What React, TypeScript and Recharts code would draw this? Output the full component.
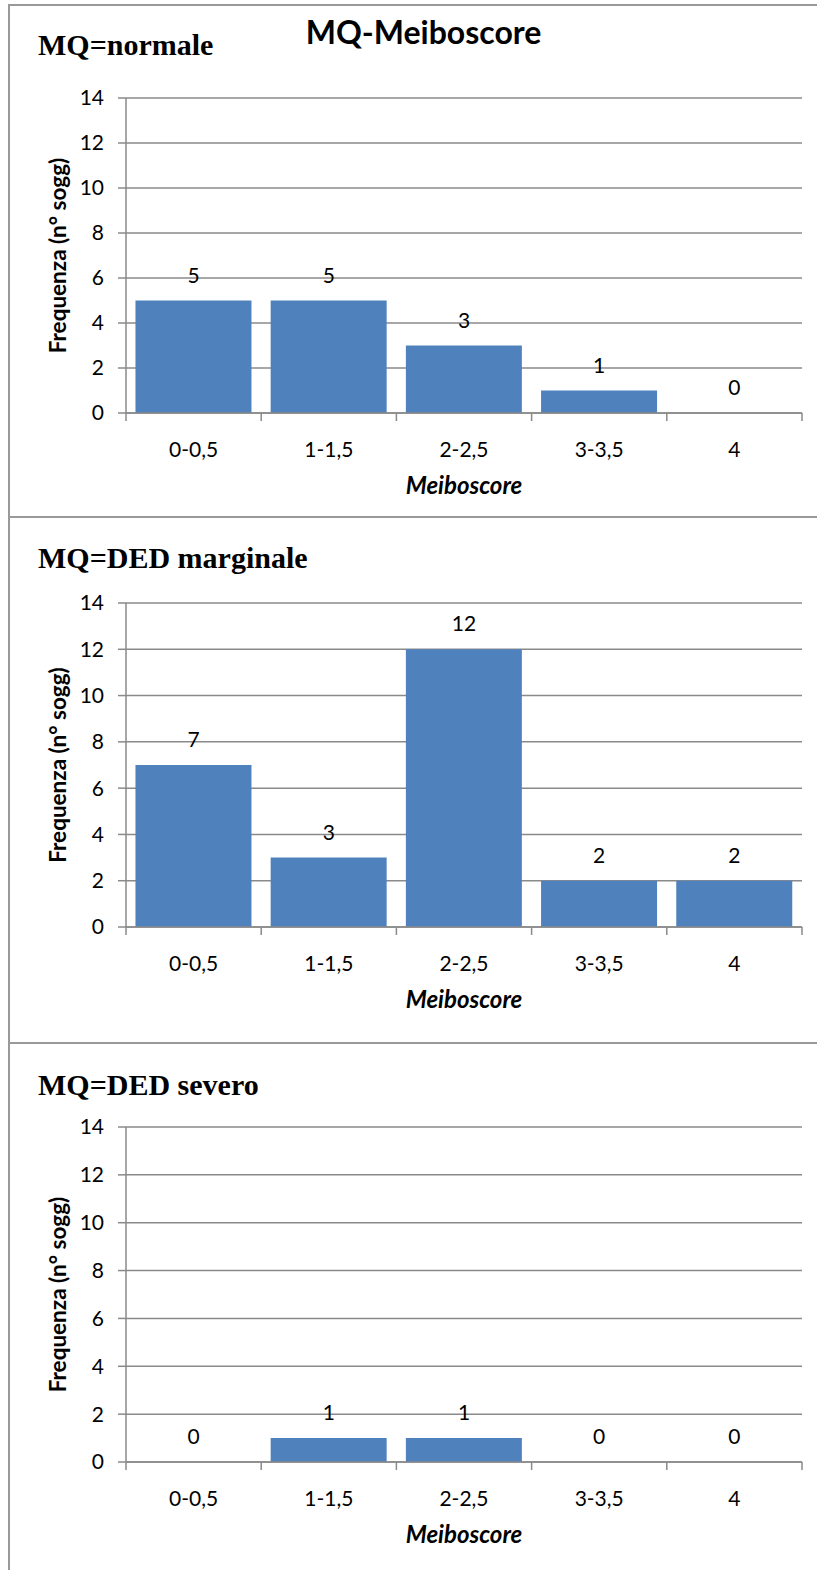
import { ComposedChart, Bar, Line, XAxis, YAxis, CartesianGrid, LabelList, Label } from "recharts";

const categories = ["0-0,5", "1-1,5", "2-2,5", "3-3,5", "4"];
const normaleValues = [5, 5, 3, 1, 0];
const marginaleValues = [7, 3, 12, 2, 2];
const severoValues = [0, 1, 1, 0, 0];
const yTicks = [0, 2, 4, 6, 8, 10, 12, 14];

const mainTitle = "MQ-Meiboscore";
const yLabel = "Frequenza (n° sogg)";
const xLabel = "Meiboscore";

const toRows = (values: number[]) => categories.map((c, i) => ({ cat: c, freq: values[i] }));

const GRAY = "#8a8a8a";
const BAR = "#4f81bd";
const FONT = "Lato, 'Open Sans', sans-serif";

const XTick = (props: any) => {
  const { x, y, payload, index, visibleTicksCount } = props;
  const half = payload.offset ?? 0;
  const last = index === visibleTicksCount - 1;
  return (
    <g>
      <line x1={x - half} x2={x - half} y1={y} y2={y + 8} stroke={GRAY} strokeWidth={1.5} />
      {last && <line x1={x + half} x2={x + half} y1={y} y2={y + 8} stroke={GRAY} strokeWidth={1.5} />}
      <text x={x} y={y + 35} textAnchor="middle" dominantBaseline="central" fontSize={21} fontFamily={FONT} fill="#000">
        {payload.value}
      </text>
    </g>
  );
};

const Panel = ({ title, values, top, height, plotTop, plotBottom, titleY }: any) => (
  <div style={{ position: "absolute", left: 0, top }}>
    <ComposedChart
      width={817}
      height={height}
      data={toRows(values)}
      margin={{ top: plotTop, right: 15, bottom: 0, left: 0 }}
      barCategoryGap="7%"
    >
      <CartesianGrid vertical={false} stroke={GRAY} strokeWidth={1.5} />
      <XAxis
        dataKey="cat"
        height={height - plotBottom}
        stroke={GRAY}
        strokeWidth={1.5}
        tickLine={false}
        tickSize={0}
        tickMargin={0}
        tick={<XTick />}
        interval={0}
      >
        <Label
          content={(p: any) => {
            const vb = p.viewBox;
            return (
              <text
                x={vb.x + vb.width / 2}
                y={vb.y + 71}
                textAnchor="middle"
                dominantBaseline="central"
                fontSize={24}
                fontFamily={FONT}
                fontWeight={700}
                fontStyle="italic"
                fill="#000"
              >
                {xLabel}
              </text>
            );
          }}
        />
      </XAxis>
      <YAxis
        width={126}
        domain={[0, 14]}
        ticks={yTicks}
        interval={0}
        stroke={GRAY}
        strokeWidth={1.5}
        tickSize={8}
        tickMargin={14}
        tick={{ fontSize: 21, fontFamily: FONT, fill: "#000" }}
      >
        <Label
          content={(p: any) => {
            const vb = p.viewBox;
            const cy = vb.y + vb.height / 2;
            return (
              <text
                x={57}
                y={cy}
                transform={`rotate(-90, 57, ${cy})`}
                textAnchor="middle"
                dominantBaseline="central"
                fontSize={22.5}
                fontFamily={FONT}
                fontWeight={700}
                fill="#000"
              >
                {yLabel}
              </text>
            );
          }}
        />
      </YAxis>
      <Bar dataKey="freq" fill={BAR} isAnimationActive={false} />
      <Line dataKey="freq" stroke="none" dot={false} activeDot={false} legendType="none" isAnimationActive={false}>
        <LabelList dataKey="freq" position="top" offset={18} fontSize={21} fontFamily={FONT} fill="#000" />
      </Line>
    </ComposedChart>
    <div
      style={{
        position: "absolute",
        left: 38,
        top: titleY - 17,
        fontFamily: "'Liberation Serif', serif",
        fontWeight: 700,
        fontSize: 30,
        lineHeight: "34px",
        color: "#000",
        whiteSpace: "nowrap",
      }}
    >
      {title}
    </div>
  </div>
);

export default function App() {
  return (
    <div style={{ position: "absolute", left: 0, top: 0, width: 817, height: 1570, background: "#fff", overflow: "hidden" }}>
      <div style={{ position: "absolute", left: 8, top: 4, width: 809, height: 1566, borderLeft: `2px solid #999`, borderTop: `2px solid #999` }} />
      <div style={{ position: "absolute", left: 8, top: 516, width: 809, borderTop: `2px solid #999` }} />
      <div style={{ position: "absolute", left: 8, top: 1042, width: 809, borderTop: `2px solid #999` }} />
      <Panel title="MQ=normale" values={normaleValues} top={0} height={517} plotTop={98} plotBottom={413} titleY={45} />
      <Panel title="MQ=DED marginale" values={marginaleValues} top={517} height={526} plotTop={86} plotBottom={410} titleY={41} />
      <Panel title="MQ=DED severo" values={severoValues} top={1043} height={527} plotTop={84} plotBottom={419} titleY={42} />
      <div
        style={{
          position: "absolute",
          left: 0,
          width: 847,
          top: 12,
          textAlign: "center",
          fontFamily: FONT,
          fontWeight: 700,
          fontSize: 32,
          lineHeight: "40px",
          color: "#000",
        }}
      >
        {mainTitle}
      </div>
    </div>
  );
}
